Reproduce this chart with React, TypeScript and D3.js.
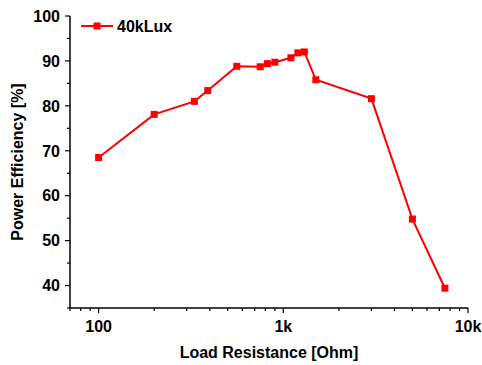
import React, { useEffect, useRef } from 'react';
import * as d3 from 'd3';

// load resistance (Ohm) and efficiency (%)
const resistance = [100, 200, 330, 390, 560, 750, 820, 900, 1100, 1200, 1300, 1500, 3000, 5000, 7500];
const efficiency = [68.5, 78.1, 81.0, 83.4, 88.8, 88.7, 89.4, 89.7, 90.7, 91.8, 92.0, 85.8, 81.6, 54.8, 39.4];
const yTicks = [40, 50, 60, 70, 80, 90, 100];
const xTicks = [100, 1000, 10000];
const xTickLabels = ['100', '1k', '10k'];
const seriesName = '40kLux';

const W = 482;
const H = 365;

const App = () => {
  const svgRef = useRef(null);

  useEffect(() => {
    const svg = d3.select(svgRef.current);
    svg.selectAll('*').remove();

    const margin = { top: 16, right: 14, bottom: 57, left: 70 };
    const innerWidth = W - margin.left - margin.right;
    const innerHeight = H - margin.top - margin.bottom;
    const font = 'Liberation Sans, Arial, sans-serif';
    const fs = 16;
    const red = '#ff0000';

    const x = d3.scaleLog().domain([70, 10000]).range([0, innerWidth]);
    const y = d3.scaleLinear().domain([35, 100]).range([innerHeight, 0]);

    const g = svg.append('g')
      .attr('transform', `translate(${margin.left},${margin.top})`);

    // minor ticks
    const xMinor = [];
    for (let dec = 10; dec <= 1000; dec *= 10) {
      for (let k = 2; k <= 9; k++) {
        const v = dec * k;
        if (v >= 70 && v <= 10000 && !xTicks.includes(v)) xMinor.push(v);
      }
    }
    const yMinor = d3.range(35, 100, 5).filter(v => !yTicks.includes(v));

    // X axis
    const xAxis = g.append('g')
      .attr('transform', `translate(0,${innerHeight})`);
    xAxis.append('line')
      .attr('x1', 0).attr('x2', innerWidth)
      .attr('stroke', '#000').attr('stroke-width', 1.5);
    xAxis.selectAll('.minor')
      .data(xMinor).enter().append('line')
      .attr('x1', d => x(d)).attr('x2', d => x(d))
      .attr('y1', 0).attr('y2', 3)
      .attr('stroke', '#000').attr('stroke-width', 1.2);
    xAxis.selectAll('.major')
      .data(xTicks).enter().append('line')
      .attr('x1', d => x(d)).attr('x2', d => x(d))
      .attr('y1', 0).attr('y2', 5)
      .attr('stroke', '#000').attr('stroke-width', 1.2);
    xAxis.selectAll('.lbl')
      .data(xTicks).enter().append('text')
      .attr('x', d => x(d))
      .attr('y', 24)
      .attr('text-anchor', 'middle')
      .attr('font-family', font).attr('font-weight', 'bold').attr('font-size', fs)
      .text((d, i) => xTickLabels[i]);

    // Y axis
    const yAxis = g.append('g');
    yAxis.append('line')
      .attr('y1', 0).attr('y2', innerHeight)
      .attr('stroke', '#000').attr('stroke-width', 1.5);
    yAxis.selectAll('.minor')
      .data(yMinor).enter().append('line')
      .attr('y1', d => y(d)).attr('y2', d => y(d))
      .attr('x1', 0).attr('x2', -3)
      .attr('stroke', '#000').attr('stroke-width', 1.2);
    yAxis.selectAll('.major')
      .data(yTicks).enter().append('line')
      .attr('y1', d => y(d)).attr('y2', d => y(d))
      .attr('x1', 0).attr('x2', -5)
      .attr('stroke', '#000').attr('stroke-width', 1.2);
    yAxis.selectAll('.lbl')
      .data(yTicks).enter().append('text')
      .attr('x', -10)
      .attr('y', d => y(d))
      .attr('dy', '0.36em')
      .attr('text-anchor', 'end')
      .attr('font-family', font).attr('font-weight', 'bold').attr('font-size', fs)
      .text(d => d);

    // axis titles
    svg.append('text')
      .attr('x', margin.left + innerWidth / 2)
      .attr('y', 358)
      .attr('text-anchor', 'middle')
      .attr('font-family', font).attr('font-weight', 'bold').attr('font-size', fs)
      .text('Load Resistance [Ohm]');
    svg.append('text')
      .attr('transform', `translate(23,${margin.top + innerHeight / 2}) rotate(-90)`)
      .attr('text-anchor', 'middle')
      .attr('font-family', font).attr('font-weight', 'bold').attr('font-size', fs)
      .text('Power Efficiency [%]');

    // series
    const pts = resistance.map((r, i) => [r, efficiency[i]]);
    const line = d3.line().x(d => x(d[0])).y(d => y(d[1]));
    g.append('path')
      .datum(pts)
      .attr('d', line)
      .attr('fill', 'none')
      .attr('stroke', red)
      .attr('stroke-width', 2);
    const ms = 7;
    g.selectAll('.pt')
      .data(pts).enter().append('rect')
      .attr('x', d => x(d[0]) - ms / 2)
      .attr('y', d => y(d[1]) - ms / 2)
      .attr('width', ms).attr('height', ms)
      .attr('fill', red);

    // legend
    const lg = svg.append('g').attr('transform', 'translate(81,26)');
    lg.append('line').attr('x1', 0).attr('x2', 32)
      .attr('stroke', red).attr('stroke-width', 2);
    lg.append('rect').attr('x', 16 - ms / 2).attr('y', -ms / 2)
      .attr('width', ms).attr('height', ms).attr('fill', red);
    lg.append('text')
      .attr('x', 36).attr('y', 0).attr('dy', '0.36em')
      .attr('font-family', font).attr('font-weight', 'bold').attr('font-size', fs)
      .text(seriesName);
  }, []);

  return (
    <svg ref={svgRef} width={W} height={H}
      style={{ position: 'absolute', left: 0, top: 0, background: '#fff' }} />
  );
};

export default App;
